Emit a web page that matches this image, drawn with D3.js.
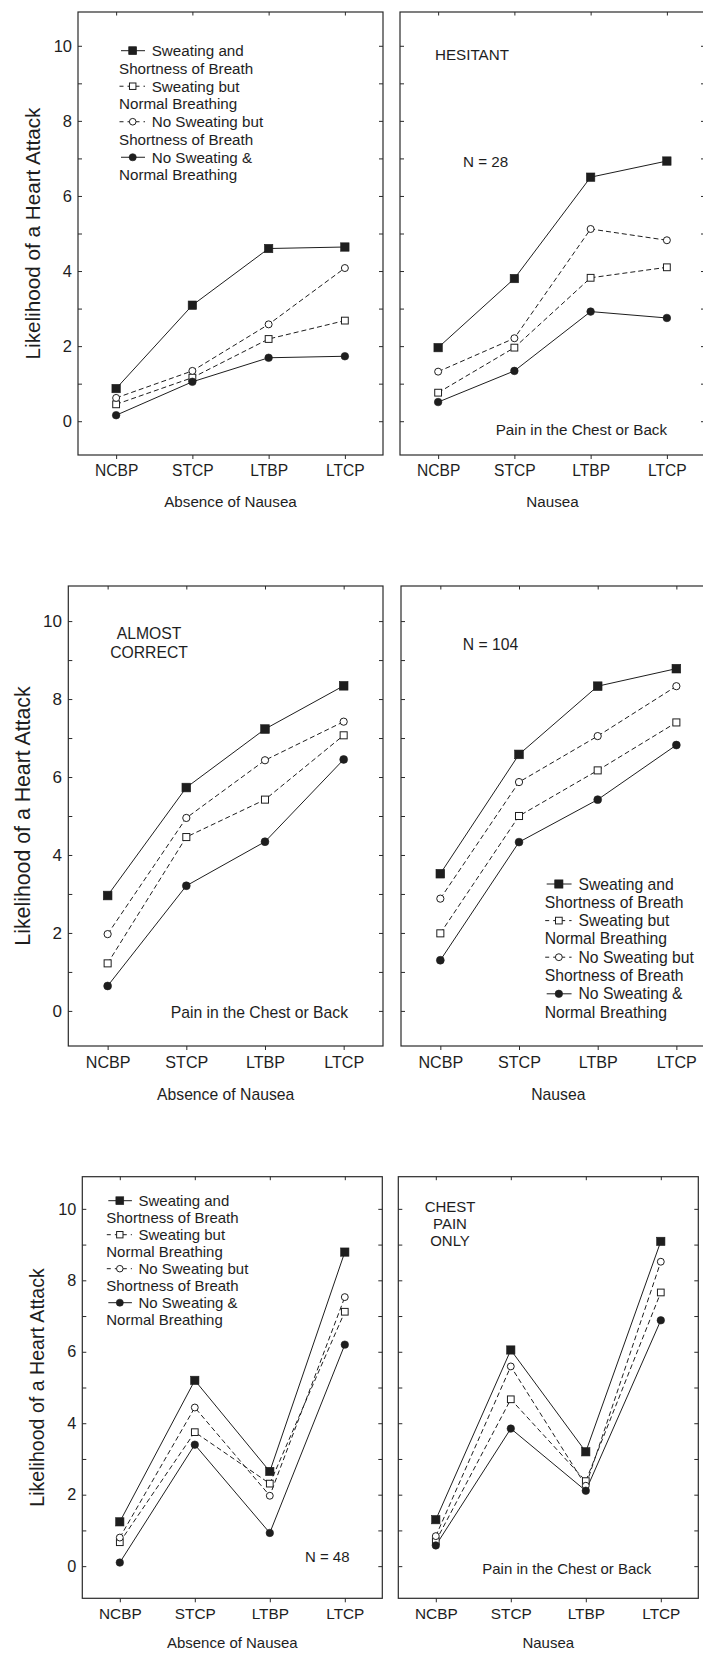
<!DOCTYPE html>
<html>
<head>
<meta charset="utf-8">
<script src="https://cdn.jsdelivr.net/npm/d3@7"></script>
<style>
  body { margin: 0; background: #fff; }
  svg { display: block; }
  text { font-family: "Liberation Sans", Arial, sans-serif; fill: #1e1e1e; }
</style>
</head>
<body>
<script>
// categories on the x axis
const categories = ["NCBP", "STCP", "LTBP", "LTCP"];

// series order: filled square, open square, open circle, filled circle
const legendFirst = ["Sweating and", "Sweating but", "No Sweating but", "No Sweating &"];
const legendSecond = ["Shortness of Breath", "Normal Breathing", "Shortness of Breath", "Normal Breathing"];

const hesitantAbsence = [
  [0.87, 3.09, 4.60, 4.64],
  [0.45, 1.16, 2.19, 2.68],
  [0.62, 1.34, 2.58, 4.08],
  [0.16, 1.05, 1.69, 1.73]
];
const hesitantNausea = [
  [1.96, 3.80, 6.50, 6.93],
  [0.76, 1.96, 3.82, 4.10],
  [1.32, 2.21, 5.12, 4.82],
  [0.51, 1.34, 2.92, 2.75]
];
const almostAbsence = [
  [2.96, 5.73, 7.23, 8.34],
  [1.22, 4.46, 5.42, 7.07],
  [1.97, 4.95, 6.43, 7.42],
  [0.64, 3.21, 4.34, 6.45]
];
const almostNausea = [
  [3.52, 6.58, 8.33, 8.78],
  [1.99, 5.00, 6.17, 7.40],
  [2.88, 5.87, 7.05, 8.33],
  [1.30, 4.33, 5.42, 6.82]
];
const chestAbsence = [
  [1.24, 5.20, 2.65, 8.79],
  [0.67, 3.75, 2.31, 7.12],
  [0.80, 4.44, 1.97, 7.53],
  [0.10, 3.40, 0.93, 6.20]
];
const chestNausea = [
  [1.30, 6.05, 3.20, 9.09],
  [0.70, 4.67, 2.38, 7.66],
  [0.84, 5.59, 2.25, 8.52],
  [0.58, 3.85, 2.11, 6.88]
];

const yTicks = [0, 1, 2, 3, 4, 5, 6, 7, 8, 9, 10];
const yLabels = [0, 2, 4, 6, 8, 10];
const groupTitles = ["Absence of Nausea", "Nausea"];
const yTitle = "Likelihood of a Heart Attack";

const W = 703, H = 1677;
const ink = "#1e1e1e";

const svg = d3.select("body").append("svg")
  .attr("width", W).attr("height", H);

// per row layout
const rows = [
  { top: 12, bottom: 455, lefts: [78, 400], width: 305, k: 1.0, yFont: 20.7, yTitleX: 33,
    data: [hesitantAbsence, hesitantNausea],
    notes: [
      [],
      [
        { t: "HESITANT", dx: 35, dy: 43 },
        { t: "N = 28", dx: 63, dy: 150 },
        { t: "Pain in the Chest or Back", dx: 95.7, dy: 418 }
      ]
    ],
    legend: [{ dx: 42, dy: 38.7, gap: 17.76 }, null] },
  { top: 586, bottom: 1046, lefts: [68.3, 401], width: 314.7, k: 1.035, yFont: 21.3, yTitleX: 23,
    data: [almostAbsence, almostNausea],
    notes: [
      [
        { t: "ALMOST", dx: 80.7, dy: 47, anchor: "middle" },
        { t: "CORRECT", dx: 80.7, dy: 66, anchor: "middle" },
        { t: "Pain in the Chest or Back", dx: 102.4, dy: 426.7 }
      ],
      [
        { t: "N = 104", dx: 61.7, dy: 58 }
      ]
    ],
    legend: [null, { dx: 144.7, dy: 298, gap: 18.3 }] },
  { top: 1176.7, bottom: 1598.3, lefts: [82.3, 398.3], width: 300, k: 0.985, yFont: 19.6, yTitleX: 36.7,
    data: [chestAbsence, chestNausea],
    notes: [
      [
        { t: "N = 48", dx: 222.7, dy: 380.3 }
      ],
      [
        { t: "CHEST", dx: 51.7, dy: 30.3, anchor: "middle" },
        { t: "PAIN", dx: 51.7, dy: 47.3, anchor: "middle" },
        { t: "ONLY", dx: 51.7, dy: 64.3, anchor: "middle" },
        { t: "Pain in the Chest or Back", dx: 84, dy: 392 }
      ]
    ],
    legend: [{ dx: 25, dy: 24, gap: 17 }, null] }
];

const dashed = [false, true, true, false];
const shapes = ["square", "square", "circle", "circle"];
const filled = [true, false, false, true];

function marker(g, i, x, y, k) {
  if (shapes[i] === "square") {
    const s = (filled[i] ? 8.4 : 6.8) * k;
    g.append("rect")
      .attr("x", x - s / 2).attr("y", y - s / 2)
      .attr("width", s).attr("height", s)
      .attr("fill", filled[i] ? ink : "#fff")
      .attr("stroke", ink).attr("stroke-width", filled[i] ? 0.6 : 1);
  } else {
    const r = (filled[i] ? 3.8 : 3.5) * k;
    g.append("circle")
      .attr("cx", x).attr("cy", y).attr("r", r)
      .attr("fill", filled[i] ? ink : "#fff")
      .attr("stroke", ink).attr("stroke-width", filled[i] ? 0.6 : 1);
  }
}

function drawLegend(g, x0, y0, gap, font, k) {
  legendFirst.forEach((name, i) => {
    const y = y0 + gap * 2 * i;
    const ls = g.append("line")
      .attr("x1", x0 + 1).attr("x2", x0 + 25 * k)
      .attr("y1", y).attr("y2", y)
      .attr("stroke", ink).attr("stroke-width", 1);
    if (dashed[i]) ls.attr("stroke-dasharray", "4,4").attr("x1", x0 - 0.5);
    marker(g, i, x0 + 12.7 * k, y, 0.95 * k);
    g.append("text").attr("x", x0 + 31.7 * k).attr("y", y).attr("dy", "0.35em")
      .attr("font-size", font).text(name);
    g.append("text").attr("x", x0 - 1).attr("y", y + gap).attr("dy", "0.35em")
      .attr("font-size", font).text(legendSecond[i]);
  });
}

rows.forEach(row => {
  const font = 15.2 * row.k;
  const y = d3.scaleLinear().domain([-0.9, 10.9]).range([row.bottom, row.top]);

  // y title for the row
  svg.append("text")
    .attr("transform", `translate(${row.yTitleX},${(row.top + row.bottom) / 2}) rotate(-90)`)
    .attr("text-anchor", "middle").attr("dy", "0.35em")
    .attr("font-size", row.yFont).text(yTitle);

  row.lefts.forEach((left, p) => {
    const x = d3.scalePoint().domain(categories)
      .range([left, left + row.width]).padding(0.5);
    const g = svg.append("g");

    // frame
    g.append("rect")
      .attr("x", left).attr("y", row.top)
      .attr("width", row.width).attr("height", row.bottom - row.top)
      .attr("fill", "none").attr("stroke", "#2a2a2a").attr("stroke-width", 1.2);

    // inward y ticks on both sides
    const yl = g.append("g").attr("transform", `translate(${left},0)`)
      .call(d3.axisLeft(y).tickValues(yTicks).tickSize(-4).tickFormat(""));
    const yr = g.append("g").attr("transform", `translate(${left + row.width},0)`)
      .call(d3.axisRight(y).tickValues(yTicks).tickSize(-4).tickFormat(""));
    // inward top ticks, outward bottom ticks
    const xt = g.append("g").attr("transform", `translate(0,${row.top})`)
      .call(d3.axisTop(x).tickSize(-3.5).tickFormat(""));
    const xb = g.append("g").attr("transform", `translate(0,${row.bottom})`)
      .call(d3.axisBottom(x).tickSize(4).tickPadding(6));
    [yl, yr, xt, xb].forEach(a => {
      a.select(".domain").remove();
      a.selectAll("line").attr("stroke", "#2a2a2a");
    });
    xb.selectAll("text").attr("font-size", 15.6 * row.k)
      .attr("font-family", '"Liberation Sans", Arial, sans-serif')
      .attr("fill", ink).attr("y", 16 * row.k).attr("dy", "0.35em");

    if (p === 0) {
      const ya = g.append("g").attr("transform", `translate(${left},0)`)
        .call(d3.axisLeft(y).tickValues(yLabels).tickSize(0).tickPadding(6 * row.k).tickFormat(d3.format("d")));
      ya.select(".domain").remove();
      ya.selectAll("text").attr("font-size", 16.5 * row.k)
        .attr("font-family", '"Liberation Sans", Arial, sans-serif').attr("fill", ink);
    }

    // group title under the axis
    g.append("text")
      .attr("x", left + row.width / 2)
      .attr("y", row.bottom + 47 * row.k * (row.k < 1 ? 0.965 : 1)).attr("dy", "0.35em")
      .attr("text-anchor", "middle").attr("font-size", font).text(groupTitles[p]);

    // series lines
    const series = row.data[p];
    const line = d3.line().x((d, j) => x(categories[j])).y(d => y(d));
    series.forEach((vals, i) => {
      g.append("path").datum(vals)
        .attr("d", line).attr("fill", "none")
        .attr("stroke", ink).attr("stroke-width", 1)
        .attr("stroke-dasharray", dashed[i] ? "5,3" : null);
    });
    series.forEach((vals, i) => {
      vals.forEach((v, j) => marker(g, i, x(categories[j]), y(v), row.k));
    });

    // annotations
    row.notes[p].forEach(n => {
      g.append("text").attr("x", left + n.dx).attr("y", row.top + n.dy)
        .attr("dy", "0.35em").attr("text-anchor", n.anchor || "start")
        .attr("font-size", font).text(n.t);
    });

    const lg = row.legend[p];
    if (lg) drawLegend(g, left + lg.dx, row.top + lg.dy, lg.gap, font, row.k);
  });
});
</script>
</body>
</html>
